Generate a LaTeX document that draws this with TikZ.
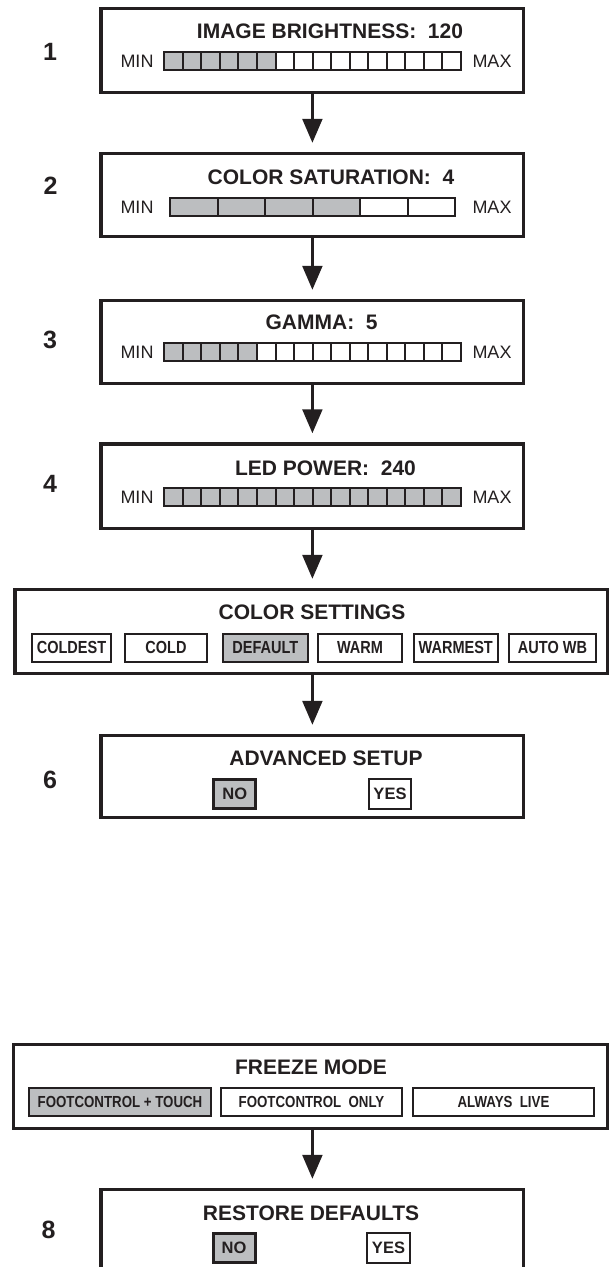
\documentclass[tikz,border=0pt]{standalone}
\usepackage{fontspec}
\setmainfont{Liberation Sans}
\newfontfamily\condfont{Liberation Sans}[FakeStretch=0.83]
\usetikzlibrary{arrows.meta}
\definecolor{ink}{RGB}{35,31,32}
\definecolor{selgray}{RGB}{188,190,192}
\tikzset{
  panel/.style={draw=ink, line width=3.2pt, inner sep=0pt},
  steplabel/.style={inner sep=0pt, text=ink, font=\bfseries\fontsize{25}{28}\selectfont},
  paneltitle/.style={inner sep=0pt, text=ink, font=\bfseries\fontsize{21}{24}\selectfont},
  minmax/.style={inner sep=0pt, text=ink, font=\fontsize{18}{21}\selectfont},
  barline/.style={draw=ink, line width=2pt},
  optbtn/.style={draw=ink, line width=2pt, inner sep=0pt, text=ink, minimum height=28pt, font=\condfont\bfseries\fontsize{17.5}{20}\selectfont},
  frzbtn/.style={optbtn, font=\condfont\bfseries\fontsize{16}{19}\selectfont},
  ynbtn/.style={draw=ink, line width=2pt, inner sep=0pt, text=ink, minimum width=42.8pt, minimum height=30pt, font=\bfseries\fontsize{16.5}{19}\selectfont},
  ynsel/.style={ynbtn, line width=3pt, fill=selgray, minimum width=42pt, minimum height=29pt},
  flow/.style={draw=ink, line width=3.5pt, -{Triangle[length=24pt,width=19.5pt]}, shorten >=9pt}
}
\newcommand\barmeter[5]{%
  \pgfmathsetmacro\bmw{(#2-#1)/#3}%
  \pgfmathsetmacro\bmtop{#5-9}%
  \pgfmathsetmacro\bmbot{#5+9}%
  \fill[selgray] (#1,\bmtop) rectangle ({#1+#4*\bmw},\bmbot);
  \pgfmathtruncatemacro\bmn{#3-1}%
  \foreach \k in {1,...,\bmn} \draw[barline] ({#1+\k*\bmw},\bmtop) -- ({#1+\k*\bmw},\bmbot);
  \draw[barline] (#1,\bmtop) rectangle (#2,\bmbot);
}
\begin{document}
\begin{tikzpicture}[x=1pt,y=-1pt]
\useasboundingbox (0,0) rectangle (609,1267);
\clip (0,0) rectangle (609,1267);

% panels
\node[panel, minimum width=422.7pt, minimum height=84pt] (p1) at (312.4,50.5) {};
\node[panel, minimum width=422.7pt, minimum height=83pt] (p2) at (312.4,195) {};
\node[panel, minimum width=422.7pt, minimum height=83pt] (p3) at (312.4,342) {};
\node[panel, minimum width=422.7pt, minimum height=84.5pt] (p4) at (312.4,486.2) {};
\node[panel, minimum width=592.5pt, minimum height=84pt] (p5) at (311.25,631.5) {};
\node[panel, minimum width=422.7pt, minimum height=82pt] (p6) at (312.4,776.5) {};
\node[panel, minimum width=594pt, minimum height=84pt] (p7) at (310.5,1086.5) {};
\node[panel, minimum width=422.7pt, minimum height=84pt] (p8) at (312.4,1231.5) {};

% step numbers
\node[steplabel] (n1) at (50,51.7) {1};
\node[steplabel] (n2) at (50.5,186) {2};
\node[steplabel] (n3) at (50,340) {3};
\node[steplabel] (n4) at (50,484) {4};
\node[steplabel] (n6) at (50,780) {6};
\node[steplabel] (n8) at (48.6,1230) {8};

% titles
\node[paneltitle] (t1) at (330,31.7) {IMAGE BRIGHTNESS:~~120};
\node[paneltitle] (t2) at (331,177) {COLOR SATURATION:~~4};
\node[paneltitle] (t3) at (321.6,322) {GAMMA:~~5};
\node[paneltitle] (t4) at (325.5,468) {LED POWER:~~240};
\node[paneltitle] (t5) at (312,612.7) {COLOR SETTINGS};
\node[paneltitle] (t6) at (326,758) {ADVANCED SETUP};
\node[paneltitle] (t7) at (311,1067) {FREEZE MODE};
\node[paneltitle] (t8) at (311,1213) {RESTORE DEFAULTS};

% bars
\barmeter{164.3}{461}{16}{6}{61.3}
\barmeter{170.3}{455}{6}{4}{207.2}
\barmeter{164.3}{461}{16}{5}{352.2}
\barmeter{164.3}{461}{16}{16}{497.3}

\node[minmax] (min1) at (137,61.3) {MIN};
\node[minmax] (max1) at (492,61.3) {MAX};
\node[minmax] (min2) at (137,207.2) {MIN};
\node[minmax] (max2) at (492,207.2) {MAX};
\node[minmax] (min3) at (137,352.2) {MIN};
\node[minmax] (max3) at (492,352.2) {MAX};
\node[minmax] (min4) at (137,497.3) {MIN};
\node[minmax] (max4) at (492,497.3) {MAX};

% color settings buttons
\node[optbtn, minimum width=79pt] (c1) at (71.5,647.7) {COLDEST};
\node[optbtn, minimum width=82pt] (c2) at (166,647.7) {COLD};
\node[optbtn, minimum width=84.6pt, fill=selgray] (c3) at (265.3,647.7) {DEFAULT};
\node[optbtn, minimum width=84pt] (c4) at (360,647.7) {WARM};
\node[optbtn, minimum width=84.5pt] (c5) at (455.75,647.7) {WARMEST};
\node[optbtn, minimum width=87pt] (c6) at (552.5,647.7) {AUTO WB};

% advanced setup buttons
\node[ynsel] (a1) at (234.8,794) {NO};
\node[ynbtn] (a2) at (390,794) {YES};

% freeze buttons
\node[frzbtn, minimum width=182pt, fill=selgray] (f1) at (120,1102) {FOOTCONTROL + TOUCH};
\node[frzbtn, minimum width=181pt] (f2) at (311.5,1102) {FOOTCONTROL~~ONLY};
\node[frzbtn, minimum width=181pt] (f3) at (503.5,1102) {ALWAYS~~LIVE};

% restore buttons
\node[ynsel] (r1) at (234,1247.5) {NO};
\node[ynbtn] (r2) at (388.5,1247.5) {YES};

% connectors
\draw[flow] (p1.south) -- (p2.north);
\draw[flow] (p2.south) -- (p3.north);
\draw[flow] (p3.south) -- (p4.north);
\draw[flow] (p4.south) -- (p4.south |- p5.north);
\draw[flow] (p6.north |- p5.south) -- (p6.north);
\draw[flow] (p8.north |- p7.south) -- (p8.north);
\end{tikzpicture}
\end{document}
